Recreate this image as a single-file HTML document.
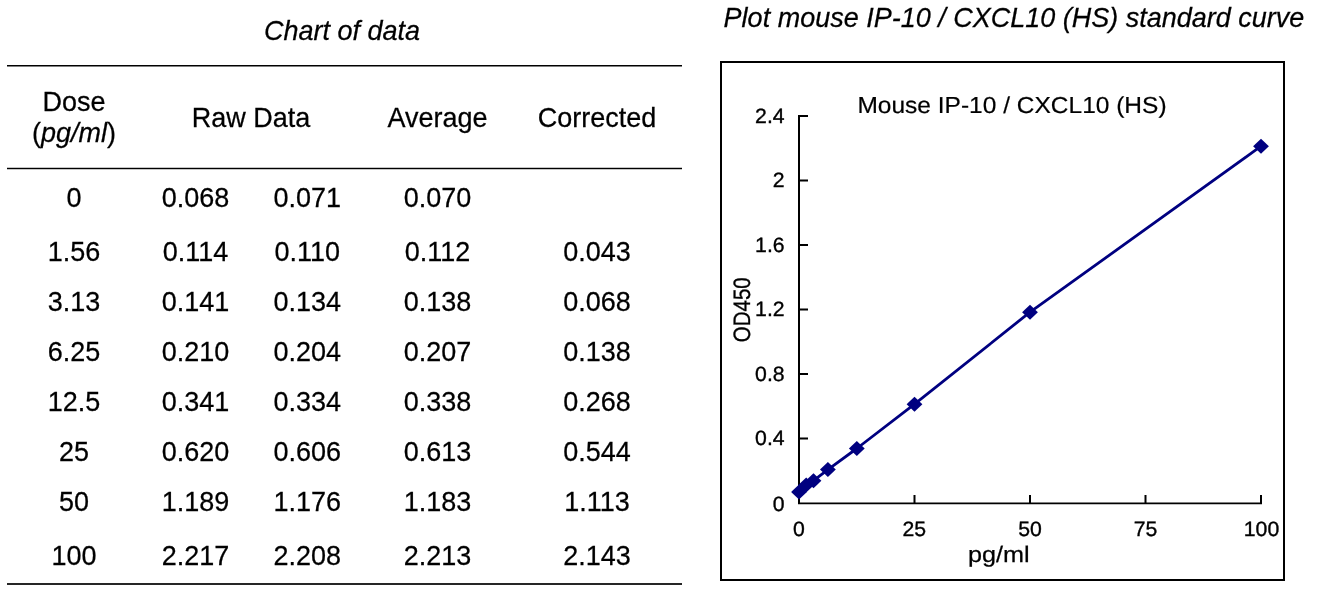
<!DOCTYPE html>
<html>
<head>
<meta charset="utf-8">
<title>Mouse IP-10 / CXCL10 (HS) standard curve</title>
<style>
html,body{margin:0;padding:0;background:#fff;}
body{width:1330px;height:597px;position:relative;overflow:hidden;font-family:"Liberation Sans",sans-serif;color:#000;}
.t{position:absolute;white-space:nowrap;text-align:center;font-size:27px;line-height:30px;height:30px;transform:scale(1,1.035);transform-origin:50% 24px;-webkit-text-stroke:0.25px #000;}
.c1{left:-26px;width:200px;}
.c2{left:95.5px;width:200px;}
.c3{left:207.3px;width:200px;}
.c4{left:337.5px;width:200px;}
.c5{left:497px;width:200px;}
.r1{top:183px;}
.r2{top:237px;}
.r3{top:287px;}
.r4{top:337px;}
.r5{top:387px;}
.r6{top:437px;}
.r7{top:487px;}
.r8{top:541px;}
.rule{position:absolute;left:7px;width:675px;background:#000;}
i{font-style:italic;}
</style>
</head>
<body>
<div id="page" style="position:absolute;left:0;top:0;width:1330px;height:597px;will-change:transform;">

<div class="t" style="left:242px;width:200px;top:16px;font-style:italic;">Chart of data</div>
<div class="t" style="left:714px;width:600px;top:3px;font-style:italic;">Plot mouse IP-10 / CXCL10 (HS) standard curve</div>

<div class="rule" style="top:65px;height:2px;background:linear-gradient(to bottom,#000 0,#000 1px,#7f7f7f 1px,#7f7f7f 2px);"></div>
<div class="rule" style="top:167px;height:3px;background:linear-gradient(to bottom,#c4c4c4 0,#c4c4c4 1px,#000 1px,#000 2px,#c4c4c4 2px,#c4c4c4 3px);"></div>
<div class="rule" style="top:583px;height:2px;background:#262626;"></div>

<div class="t c1" style="top:87px;">Dose</div>
<div class="t c1" style="top:118px;">(<i>pg/ml</i>)</div>
<div class="t" style="left:151px;width:200px;top:103px;">Raw Data</div>
<div class="t c4" style="top:103px;">Average</div>
<div class="t c5" style="top:103px;">Corrected</div>

<div class="t c1 r1">0</div><div class="t c2 r1">0.068</div><div class="t c3 r1">0.071</div><div class="t c4 r1">0.070</div>
<div class="t c1 r2">1.56</div><div class="t c2 r2">0.114</div><div class="t c3 r2">0.110</div><div class="t c4 r2">0.112</div><div class="t c5 r2">0.043</div>
<div class="t c1 r3">3.13</div><div class="t c2 r3">0.141</div><div class="t c3 r3">0.134</div><div class="t c4 r3">0.138</div><div class="t c5 r3">0.068</div>
<div class="t c1 r4">6.25</div><div class="t c2 r4">0.210</div><div class="t c3 r4">0.204</div><div class="t c4 r4">0.207</div><div class="t c5 r4">0.138</div>
<div class="t c1 r5">12.5</div><div class="t c2 r5">0.341</div><div class="t c3 r5">0.334</div><div class="t c4 r5">0.338</div><div class="t c5 r5">0.268</div>
<div class="t c1 r6">25</div><div class="t c2 r6">0.620</div><div class="t c3 r6">0.606</div><div class="t c4 r6">0.613</div><div class="t c5 r6">0.544</div>
<div class="t c1 r7">50</div><div class="t c2 r7">1.189</div><div class="t c3 r7">1.176</div><div class="t c4 r7">1.183</div><div class="t c5 r7">1.113</div>
<div class="t c1 r8">100</div><div class="t c2 r8">2.217</div><div class="t c3 r8">2.208</div><div class="t c4 r8">2.213</div><div class="t c5 r8">2.143</div>

<svg id="chart" width="1330" height="597" viewBox="0 0 1330 597" style="position:absolute;left:0;top:0;" font-family="Liberation Sans, sans-serif" text-rendering="geometricPrecision">
  <!-- chart frame -->
  <rect x="721" y="62" width="563" height="518" fill="none" stroke="#000" stroke-width="2"/>
  <!-- axes -->
  <g stroke="#000" stroke-width="2" fill="none" stroke-linecap="butt">
    <path d="M799 115 V504"/>
    <path d="M798 503.3 H1262" stroke-width="1.7"/>
    <!-- y ticks -->
    <path d="M798 116 H808 M798 180.5 H808 M798 245 H808 M798 309.5 H808 M798 374 H808 M798 438.5 H808"/>
    <!-- x ticks -->
    <path d="M914.5 495 V504 M1030 495 V504 M1145.5 495 V504 M1261 495 V504"/>
  </g>
  <!-- y labels -->
  <g font-size="20.7" text-anchor="end" fill="#000" stroke="#000" stroke-width="0.35">
    <text transform="translate(784.6 122.8) scale(1.025 1)">2.4</text>
    <text transform="translate(784.6 187.3) scale(1.025 1)">2</text>
    <text transform="translate(784.6 251.8) scale(1.025 1)">1.6</text>
    <text transform="translate(784.6 316.3) scale(1.025 1)">1.2</text>
    <text transform="translate(784.6 380.8) scale(1.025 1)">0.8</text>
    <text transform="translate(784.6 445.3) scale(1.025 1)">0.4</text>
    <text transform="translate(784.6 511.0) scale(1.025 1)">0</text>
  </g>
  <!-- x labels -->
  <g font-size="20.7" text-anchor="middle" fill="#000" stroke="#000" stroke-width="0.35">
    <text transform="translate(799 536.2) scale(1.025 1)">0</text>
    <text transform="translate(914.2 536.2) scale(1.025 1)">25</text>
    <text transform="translate(1030 536.2) scale(1.025 1)">50</text>
    <text transform="translate(1145.5 536.2) scale(1.025 1)">75</text>
    <text transform="translate(1261.5 536.2) scale(1.025 1)">100</text>
  </g>
  <text transform="translate(998.7 562.2) scale(1.12 1)" font-size="22.5" text-anchor="middle" stroke="#000" stroke-width="0.25">pg/ml</text>
  <text transform="translate(1012 112.8) scale(1.061 1)" font-size="23.1" text-anchor="middle" stroke="#000" stroke-width="0.2">Mouse IP-10 / CXCL10 (HS)</text>
  <text transform="translate(750.2 309.75) scale(1.158 1) rotate(-90)" font-size="20.5" text-anchor="middle" stroke="#000" stroke-width="0.3">OD450</text>
  <!-- curve -->
  <polyline fill="none" stroke="#000080" stroke-width="2.8" stroke-linejoin="round"
    points="799,492.1 806.2,484.9 813.5,480.7 827.9,469.6 856.8,448.5 914.5,404.2 1030,312.2 1261,146.2"/>
  <!-- markers -->
  <g fill="#000080">
    <path d="M799 484.6 l7.9 7.5 l-7.9 7.5 l-7.9 -7.5z"/>
    <path d="M806.2 477.4 l7.9 7.5 l-7.9 7.5 l-7.9 -7.5z"/>
    <path d="M813.5 473.2 l7.9 7.5 l-7.9 7.5 l-7.9 -7.5z"/>
    <path d="M827.9 462.1 l7.9 7.5 l-7.9 7.5 l-7.9 -7.5z"/>
    <path d="M856.8 441.0 l7.9 7.5 l-7.9 7.5 l-7.9 -7.5z"/>
    <path d="M914.5 396.7 l7.9 7.5 l-7.9 7.5 l-7.9 -7.5z"/>
    <path d="M1030 304.7 l7.9 7.5 l-7.9 7.5 l-7.9 -7.5z"/>
    <path d="M1261 138.7 l7.9 7.5 l-7.9 7.5 l-7.9 -7.5z"/>
  </g>
</svg>

</div>
</body>
</html>
